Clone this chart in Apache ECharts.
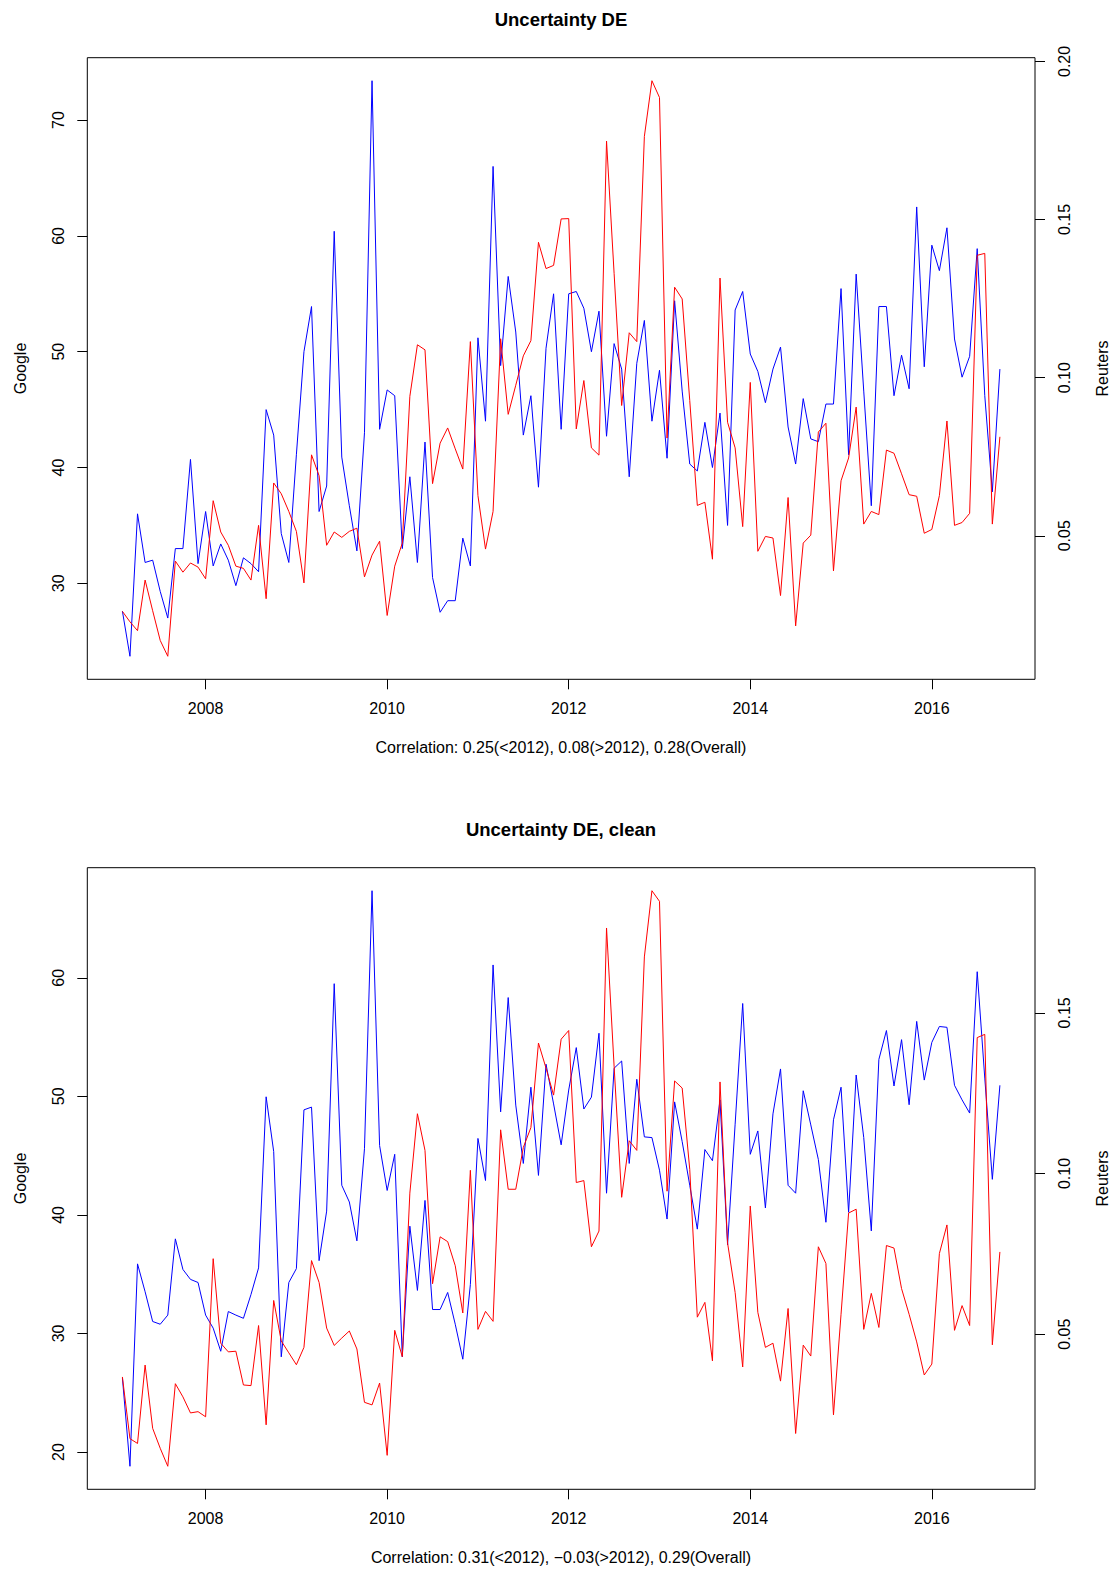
<!DOCTYPE html>
<html>
<head>
<meta charset="utf-8">
<script src="https://cdn.jsdelivr.net/npm/echarts@6/dist/echarts.min.js"></script>
<style>
  html, body { margin: 0; padding: 0; background: #fff; }
  #chart { width: 1114px; height: 1569px; }
</style>
</head>
<body>
<div id="chart"></div>
<script>
// ---- Data (monthly, starting Feb 2007) ----
const startYear = 2007;
const startMonth = 2;

const googleDE = [
  27.6, 23.7, 36.0, 31.8, 32.0, 29.3, 27.0, 33.0, 33.0, 40.7, 31.7, 36.2, 31.5, 33.4, 32.0, 29.8,
  32.2, 31.7, 31.0, 45.0, 42.8, 34.3, 31.8, 41.1, 50.0, 53.9, 36.2, 38.4, 60.4,
  40.9, 36.7, 32.8, 43.0, 73.4, 43.3, 46.7, 46.2, 33.0, 39.2, 31.8, 42.2, 30.5, 27.5, 28.5, 28.5,
  33.9, 31.5, 51.2, 44.0, 66.0, 48.8, 56.5, 51.7, 42.8, 46.2, 38.3, 50.3, 55.0, 43.3, 55.0,
  55.2, 53.75, 50.0, 53.5, 42.7, 50.7, 48.5, 39.2, 49.0, 52.7, 44.0, 48.4, 40.8, 54.4, 46.6,
  40.3, 39.7, 43.9, 40.0, 44.7, 35.0, 53.6, 55.2, 49.8, 48.3, 45.6, 48.5, 50.4, 43.5, 40.3,
  45.95, 42.47, 42.23, 45.48, 45.48, 55.45, 41.1, 56.7, 46.6, 36.7, 53.9, 53.9, 46.2, 49.7,
  46.8, 62.5, 48.7, 59.2, 57.0, 60.7, 51.1, 47.8, 49.6, 58.9, 46.2, 37.9, 48.5
];

const reutersDE = [
  0.0261, 0.0228, 0.0200, 0.0360, 0.0263, 0.0169, 0.0119, 0.0420, 0.0385, 0.0414, 0.0401, 0.0364,
  0.0611, 0.0512, 0.0470, 0.0404, 0.0397, 0.0360, 0.0533, 0.0301, 0.0667, 0.0633, 0.0577, 0.0514,
  0.0351, 0.0756, 0.0690, 0.0470, 0.0512,
  0.0495, 0.0514, 0.0524, 0.0370, 0.0439, 0.0483, 0.0248, 0.0404, 0.0477, 0.0941, 0.1104, 0.1088,
  0.0665, 0.0793, 0.0841, 0.0775, 0.0711, 0.1114, 0.0627, 0.0458, 0.0577, 0.1123, 0.0884, 0.0976,
  0.1069, 0.1117, 0.1428, 0.1345, 0.1355, 0.1502, 0.1503,
  0.0838, 0.0991, 0.0778, 0.0755, 0.1748, 0.1330, 0.0912, 0.1142, 0.1114, 0.1763, 0.1939, 0.1886,
  0.0809, 0.1286, 0.1249, 0.0928, 0.0596, 0.0606, 0.0426, 0.1315, 0.0859, 0.0778, 0.0529, 0.0985,
  0.0451, 0.0498, 0.0493, 0.0311, 0.0621, 0.0215,
  0.0477, 0.0502, 0.0828, 0.0856, 0.0389, 0.0674, 0.0746, 0.0907, 0.0537, 0.0577, 0.0567, 0.0771,
  0.0761, 0.0696, 0.0630, 0.0625, 0.0508, 0.0520, 0.0627, 0.0863, 0.0533, 0.0542, 0.0571, 0.1387,
  0.1393, 0.0537, 0.0813
];

const googleDEClean = [
  26.26, 18.8, 35.87, 33.52, 31.01, 30.78, 31.55, 37.98, 35.4, 34.56, 34.3, 31.55, 30.45, 28.5,
  31.85, 31.55, 31.28, 33.29, 35.53, 49.96, 45.34, 28.03, 34.3, 35.47, 48.86, 49.09, 36.14, 40.32, 59.5,
  42.5, 41.09, 37.81, 45.58, 67.34, 45.85, 42.06, 45.11, 28.03, 39.05, 33.63, 41.22, 32.02, 32.02,
  33.46, 30.78, 27.83, 34.13, 46.45, 42.9, 61.08, 48.69, 58.33, 49.26, 44.34, 50.77, 43.33, 52.71,
  49.36, 45.91, 50.53,
  54.11, 48.93, 49.93, 55.32, 41.83, 52.37, 52.98, 44.34, 51.44, 46.58, 46.52, 43.77, 39.65, 49.53,
  46.18, 42.5, 38.8, 45.51, 44.57, 49.7, 37.48, 47.65, 57.83, 45.11, 47.08, 40.59, 48.52, 52.31,
  42.5, 41.83,
  50.47, 47.59, 44.67, 39.38, 48.02, 50.77, 40.22, 51.8, 46.52, 38.65, 53.11, 55.55, 50.87, 54.78,
  49.29, 56.32, 51.37, 54.55, 55.89, 55.82, 50.93, 49.7, 48.59, 60.51, 51.54, 43.0, 50.93
];

const reutersDEClean = [
  0.0367, 0.0175, 0.0160, 0.0404, 0.0207, 0.0145, 0.0089, 0.0346, 0.0305, 0.0255, 0.0259, 0.0243,
  0.0735, 0.0472, 0.0445, 0.0447, 0.0342, 0.0340, 0.0527, 0.0218, 0.0605, 0.0479, 0.0442, 0.0405,
  0.0459, 0.0729, 0.0661, 0.0519, 0.0465,
  0.0488, 0.0510, 0.0454, 0.0288, 0.0280, 0.0348, 0.0123, 0.0512, 0.0430, 0.0939, 0.1186, 0.1072,
  0.0657, 0.0803, 0.0788, 0.0713, 0.0566, 0.1010, 0.0515, 0.0571, 0.0540, 0.1136, 0.0951, 0.0951,
  0.1081, 0.1143, 0.1406, 0.1328, 0.1244, 0.1418, 0.1445,
  0.0972, 0.0978, 0.0772, 0.0821, 0.1764, 0.1334, 0.0926, 0.1102, 0.1072, 0.1674, 0.1880, 0.1847,
  0.0945, 0.1288, 0.1266, 0.1013, 0.0553, 0.0599, 0.0417, 0.1285, 0.0784, 0.0630, 0.0398, 0.0899,
  0.0568, 0.0459, 0.0472, 0.0354, 0.0580, 0.0191,
  0.0466, 0.0432, 0.0772, 0.0720, 0.0249, 0.0562, 0.0877, 0.0889, 0.0515, 0.0627, 0.0521, 0.0776,
  0.0768, 0.0642, 0.0562, 0.0476, 0.0373, 0.0407, 0.0751, 0.0840, 0.0512, 0.0589, 0.0527, 0.1423,
  0.1433, 0.0467, 0.0756
];

// ---- Tick labels ----
const xTicks = [2008, 2010, 2012, 2014, 2016];
const googleTicksTop = [30, 40, 50, 60, 70];
const reutersTicksTop = [0.05, 0.10, 0.15, 0.20];
const googleTicksBottom = [20, 30, 40, 50, 60];
const reutersTicksBottom = [0.05, 0.10, 0.15];

// ---- Texts ----
const titles = ['Uncertainty DE', 'Uncertainty DE, clean'];
const subtitles = [
  'Correlation: 0.25(<2012), 0.08(>2012), 0.28(Overall)',
  'Correlation: 0.31(<2012), \u22120.03(>2012), 0.29(Overall)'
];

// ---- Build ----
function timeOf(i) { return startYear + (startMonth - 1 + i) / 12; }
function pairs(arr) { return arr.map((v, i) => [timeOf(i), v]); }
function rRange(arr) {
  const mn = Math.min.apply(null, arr), mx = Math.max.apply(null, arr);
  const p = (mx - mn) * 0.04;
  return [mn - p, mx + p];
}
const tRange = rRange([timeOf(0), timeOf(googleDE.length - 1)]);

const FONT = '"Liberation Sans", Arial, sans-serif';
const FS = 16;
const INK = '#000';

const panelTop = [57.7, 867.7];
const panelH = 621.6;
const gridLeft = 87.3, gridRight = 1114 - 1035;

function xAxisFor(g) {
  return {
    type: 'value', gridIndex: g, min: tRange[0], max: tRange[1],
    axisLine: { show: false },
    splitLine: { show: false },
    axisTick: { show: true, inside: false, length: 10, customValues: xTicks, lineStyle: { color: INK, width: 1 } },
    axisLabel: { customValues: xTicks, margin: 21, color: INK, fontFamily: FONT, fontSize: FS,
      formatter: v => String(Math.round(v)) }
  };
}
function yAxisFor(g, pos, range, ticks, fmt) {
  return {
    type: 'value', gridIndex: g, position: pos, min: range[0], max: range[1],
    axisLine: { show: false },
    splitLine: { show: false },
    axisTick: { show: true, inside: false, length: 10, customValues: ticks, lineStyle: { color: INK, width: 1 } },
    axisLabel: { customValues: ticks, rotate: 90, margin: 21, color: INK, fontFamily: FONT, fontSize: FS,
      formatter: fmt }
  };
}
const fmtInt = v => String(Math.round(v));
const fmt2 = v => v.toFixed(2);

const graphics = [];
for (let p = 0; p < 2; p++) {
  const top = panelTop[p];
  const midY = top + panelH / 2;
  graphics.push({ type: 'text', x: 561, y: top - 38, style: { text: titles[p], font: 'bold 18.5px ' + FONT, fill: INK, textAlign: 'center', textVerticalAlign: 'middle' } });
  graphics.push({ type: 'text', x: 561, y: top + panelH + 68, style: { text: subtitles[p], font: FS + 'px ' + FONT, fill: INK, textAlign: 'center', textVerticalAlign: 'middle' } });
  graphics.push({ type: 'text', x: 20, y: midY, rotation: Math.PI / 2, style: { text: 'Google', font: FS + 'px ' + FONT, fill: INK, textAlign: 'center', textVerticalAlign: 'middle' } });
  graphics.push({ type: 'text', x: 1102, y: midY, rotation: Math.PI / 2, style: { text: 'Reuters', font: FS + 'px ' + FONT, fill: INK, textAlign: 'center', textVerticalAlign: 'middle' } });
}

const option = {
  backgroundColor: '#fff',
  animation: false,
  grid: [0, 1].map(p => ({
    left: gridLeft, right: gridRight, top: panelTop[p], height: panelH,
    show: true, borderColor: INK, borderWidth: 1, backgroundColor: 'transparent', containLabel: false
  })),
  xAxis: [xAxisFor(0), xAxisFor(1)],
  yAxis: [
    yAxisFor(0, 'left', rRange(googleDE), googleTicksTop, fmtInt),
    yAxisFor(0, 'right', rRange(reutersDE), reutersTicksTop, fmt2),
    yAxisFor(1, 'left', rRange(googleDEClean), googleTicksBottom, fmtInt),
    yAxisFor(1, 'right', rRange(reutersDEClean), reutersTicksBottom, fmt2)
  ],
  series: [
    { name: 'Google', type: 'line', xAxisIndex: 0, yAxisIndex: 0, data: pairs(googleDE) },
    { name: 'Reuters', type: 'line', xAxisIndex: 0, yAxisIndex: 1, data: pairs(reutersDE) },
    { name: 'Google clean', type: 'line', xAxisIndex: 1, yAxisIndex: 2, data: pairs(googleDEClean) },
    { name: 'Reuters clean', type: 'line', xAxisIndex: 1, yAxisIndex: 3, data: pairs(reutersDEClean) }
  ].map((s, k) => Object.assign(s, {
    showSymbol: false, symbol: 'none', silent: true,
    lineStyle: { color: k % 2 === 0 ? '#0000FF' : '#FF0000', width: 1 },
    itemStyle: { color: k % 2 === 0 ? '#0000FF' : '#FF0000' }
  })),
  graphic: graphics
};

const chart = echarts.init(document.getElementById('chart'), null, { renderer: 'svg' });
chart.setOption(option);
</script>
</body>
</html>
